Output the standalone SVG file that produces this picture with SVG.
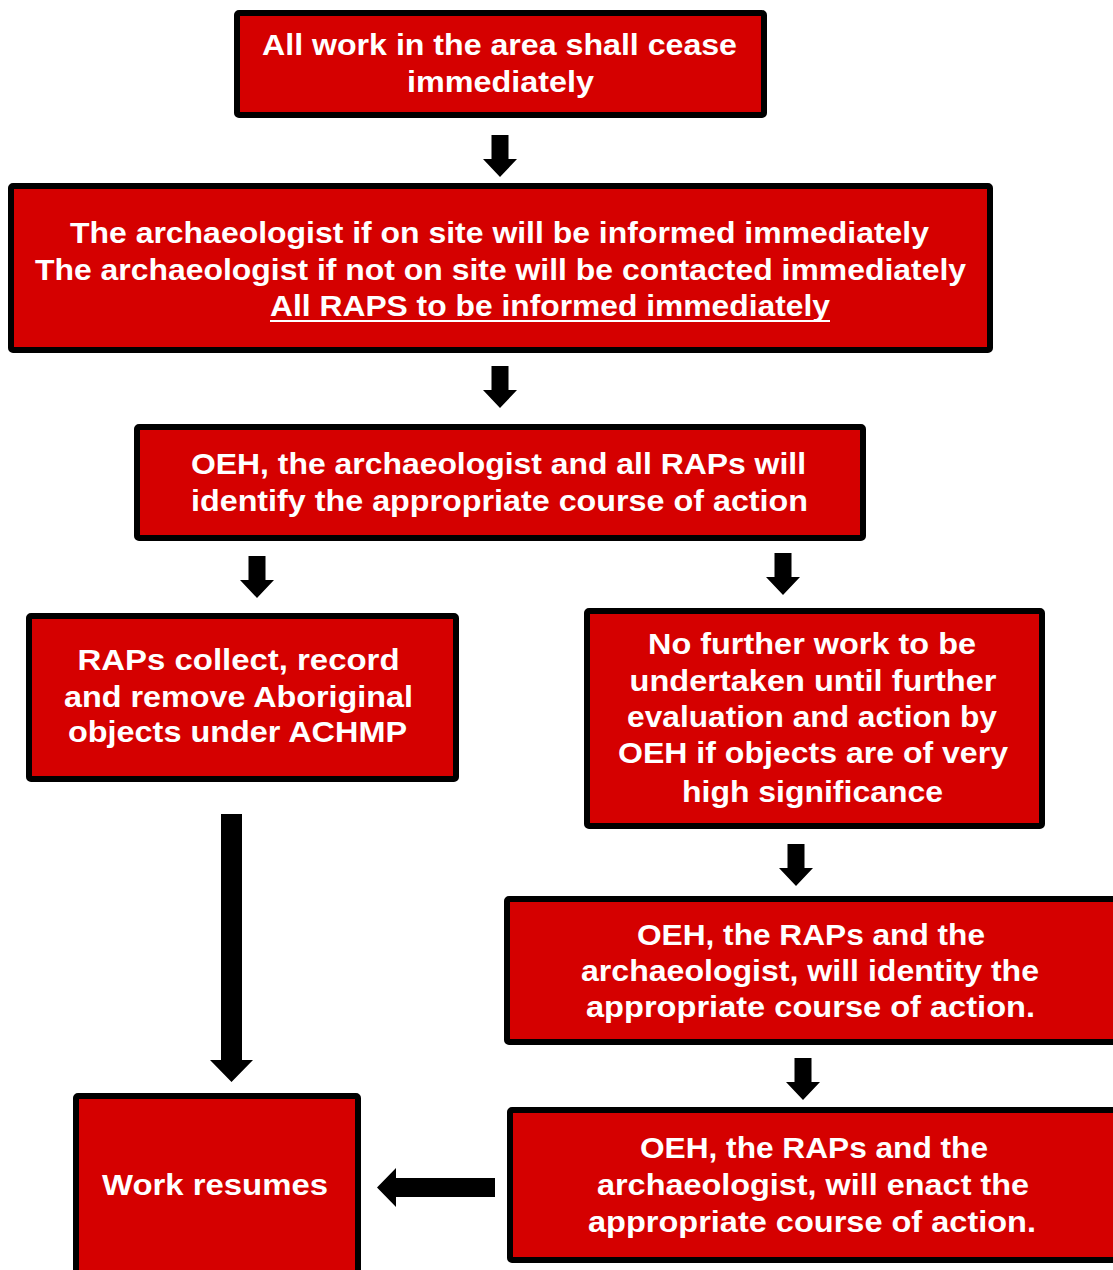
<svg xmlns="http://www.w3.org/2000/svg" xmlns:xlink="http://www.w3.org/1999/xlink" width="1113" height="1270" viewBox="0 0 1113 1270">
<style>
.box{fill:#d50000;stroke:#000;stroke-width:6;}
.t{font-family:"Liberation Sans Narrow","Liberation Sans",Arial,sans-serif;font-weight:bold;font-size:30px;fill:#fff;text-anchor:middle;}
.arr{fill:#000;}
</style>
<defs>
<path id="down" d="M-8.5,0 H8.5 V24 H17 L0,42 L-17,24 H-8.5 Z"/>
</defs>
<rect width="1113" height="1270" fill="#fff"/>
<g id="connectors" class="arr">
<use xlink:href="#down" href="#down" x="500" y="135"/>
<use xlink:href="#down" href="#down" x="500" y="366"/>
<use xlink:href="#down" href="#down" x="257" y="556"/>
<use xlink:href="#down" href="#down" x="783" y="553"/>
<use xlink:href="#down" href="#down" x="796" y="844"/>
<use xlink:href="#down" href="#down" x="803" y="1058"/>
<path d="M221,814 H242 V1060 H253 L231.5,1082 L210,1060 H221 Z"/>
<path d="M495,1178 V1197 H396 V1207 L377,1187.5 L396,1168 V1178 Z"/>
</g>
<g id="n1">
<rect class="box" x="237" y="13" width="527" height="102" rx="2"/>
<text class="t" x="499.5" y="55" textLength="475" lengthAdjust="spacingAndGlyphs">All work in the area shall cease</text>
<text class="t" x="500.5" y="92" textLength="187" lengthAdjust="spacingAndGlyphs">immediately</text>
</g>
<g id="n2">
<rect class="box" x="11" y="186" width="979" height="164" rx="2"/>
<text class="t" x="499.5" y="243" textLength="859" lengthAdjust="spacingAndGlyphs">The archaeologist if on site will be informed immediately</text>
<text class="t" x="500.5" y="280" textLength="931" lengthAdjust="spacingAndGlyphs">The archaeologist if not on site will be contacted immediately</text>
<text class="t" x="550" y="316" textLength="560" lengthAdjust="spacingAndGlyphs">All RAPS to be informed immediately</text>
<rect x="270" y="320" width="560" height="2" fill="#fff"/>
</g>
<g id="n3">
<rect class="box" x="137" y="427" width="726" height="111" rx="2"/>
<text class="t" x="498.5" y="474" textLength="615" lengthAdjust="spacingAndGlyphs">OEH, the archaeologist and all RAPs will</text>
<text class="t" x="499.5" y="511" textLength="617" lengthAdjust="spacingAndGlyphs">identify the appropriate course of action</text>
</g>
<g id="n4">
<rect class="box" x="29" y="616" width="427" height="163" rx="2"/>
<text class="t" x="238.5" y="670" textLength="322" lengthAdjust="spacingAndGlyphs">RAPs collect, record</text>
<text class="t" x="238.5" y="707" textLength="349" lengthAdjust="spacingAndGlyphs">and remove Aboriginal</text>
<text class="t" x="237.5" y="742" textLength="339" lengthAdjust="spacingAndGlyphs">objects under ACHMP</text>
</g>
<g id="n5">
<rect class="box" x="587" y="611" width="455" height="215" rx="2"/>
<text class="t" x="812" y="654" textLength="328" lengthAdjust="spacingAndGlyphs">No further work to be</text>
<text class="t" x="813" y="691" textLength="367" lengthAdjust="spacingAndGlyphs">undertaken until further</text>
<text class="t" x="812" y="727" textLength="370" lengthAdjust="spacingAndGlyphs">evaluation and action by</text>
<text class="t" x="813" y="763" textLength="390" lengthAdjust="spacingAndGlyphs">OEH if objects are of very</text>
<text class="t" x="812.5" y="802" textLength="261" lengthAdjust="spacingAndGlyphs">high significance</text>
</g>
<g id="n6">
<rect class="box" x="507" y="899" width="620" height="143" rx="2"/>
<text class="t" x="811" y="945" textLength="348" lengthAdjust="spacingAndGlyphs">OEH, the RAPs and the</text>
<text class="t" x="810" y="981" textLength="458" lengthAdjust="spacingAndGlyphs">archaeologist, will identity the</text>
<text class="t" x="810.5" y="1017" textLength="449" lengthAdjust="spacingAndGlyphs">appropriate course of action.</text>
</g>
<g id="n7">
<rect class="box" x="510" y="1110" width="617" height="150" rx="2"/>
<text class="t" x="814" y="1158" textLength="348" lengthAdjust="spacingAndGlyphs">OEH, the RAPs and the</text>
<text class="t" x="813" y="1195" textLength="432" lengthAdjust="spacingAndGlyphs">archaeologist, will enact the</text>
<text class="t" x="812" y="1232" textLength="448" lengthAdjust="spacingAndGlyphs">appropriate course of action.</text>
</g>
<g id="n8">
<rect class="box" x="76" y="1096" width="282" height="190" rx="2"/>
<text class="t" x="215" y="1195" textLength="226" lengthAdjust="spacingAndGlyphs">Work resumes</text>
</g>
</svg>
